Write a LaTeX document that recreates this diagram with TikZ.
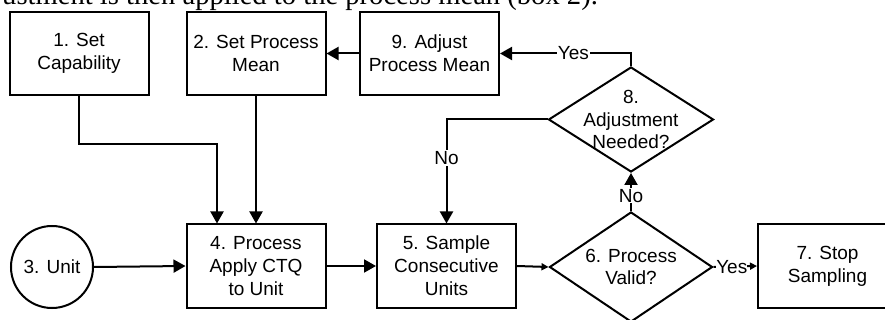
\documentclass[tikz,border=0pt]{standalone}
\usepackage{fontspec}
\setmainfont{Liberation Sans}
\newfontfamily\serifft{Liberation Serif}
\usetikzlibrary{shapes.geometric,arrows.meta}
\begin{document}
\begin{tikzpicture}[x=1pt,y=-1pt,
  every node/.style={font=\fontsize{19}{22.8}\selectfont, align=center},
  stepbox/.style={draw, line width=2pt, minimum width=139pt, minimum height=83pt, inner sep=0pt},
  dia/.style={draw, line width=2pt, shape=diamond, inner sep=0pt},
  conn/.style={line width=2pt},
  arr/.style={conn, -{Triangle[length=12pt,width=13pt]}},
  sarr/.style={conn, -{Triangle[length=7pt,width=7pt]}},
  lbl/.style={fill=white, inner sep=1pt}]
\useasboundingbox (0,0) rectangle (885,320);
\clip (0,0) rectangle (885,320);
\node[anchor=base west, inner sep=0pt, font=\serifft\fontsize{28.6}{34}\selectfont] (top) at (2,5) {ustment is then applied to the process mean (box 2).};
\node[stepbox] (b1) at (79,53.5) {1. Set\\Capability};
\node[stepbox] (b2) at (256,53.5) {2. Set Process\\Mean};
\node[stepbox] (b9) at (429.5,53.5) {9. Adjust\\Process Mean};
\node[stepbox] (b4) at (256,266) {4. Process\\Apply CTQ\\to Unit};
\node[stepbox] (b5) at (446.5,266) {5. Sample\\Consecutive\\Units};
\node[stepbox] (b7) at (827.5,266) {7. Stop\\Sampling};
\node[draw, circle, line width=2pt, minimum size=82pt, inner sep=0pt] (c3) at (52,267) {3. Unit};
\node[dia, minimum width=165pt, minimum height=105pt] (d8) at (631,119.5) {};
\node (t8) at (631,119.5) {8.\\Adjustment\\Needed?};
\node[dia, minimum width=163pt, minimum height=110pt] (d6) at (631,267) {};
\node (t6) at (631,267) {6. Process\\Valid?};
% connectors
\draw[arr] (d8.north) |- node[lbl, pos=0.72] {Yes} (b9.east);
\draw[arr] (b9.west) -- (b2.east);
\draw[arr] (b1.south) -- ++(0,48) -| ([xshift=-39pt]b4.north);
\draw[arr] (b2.south) -- (b4.north);
\draw[arr] (c3.east) -- (b4.west);
\draw[arr] (b4.east) -- (b5.west);
\draw[arr] (d8.west) -| node[lbl, pos=0.685] {No} (b5.north);
\draw[sarr] (b5.east) -- (d6.west);
\draw[arr] (d6.north) -- node[lbl, pos=0.4] {No} (d8.south);
\draw[sarr] (d6.east) -- node[lbl, pos=0.42, inner sep=0pt] {Yes} (b7.west);
\end{tikzpicture}
\end{document}
